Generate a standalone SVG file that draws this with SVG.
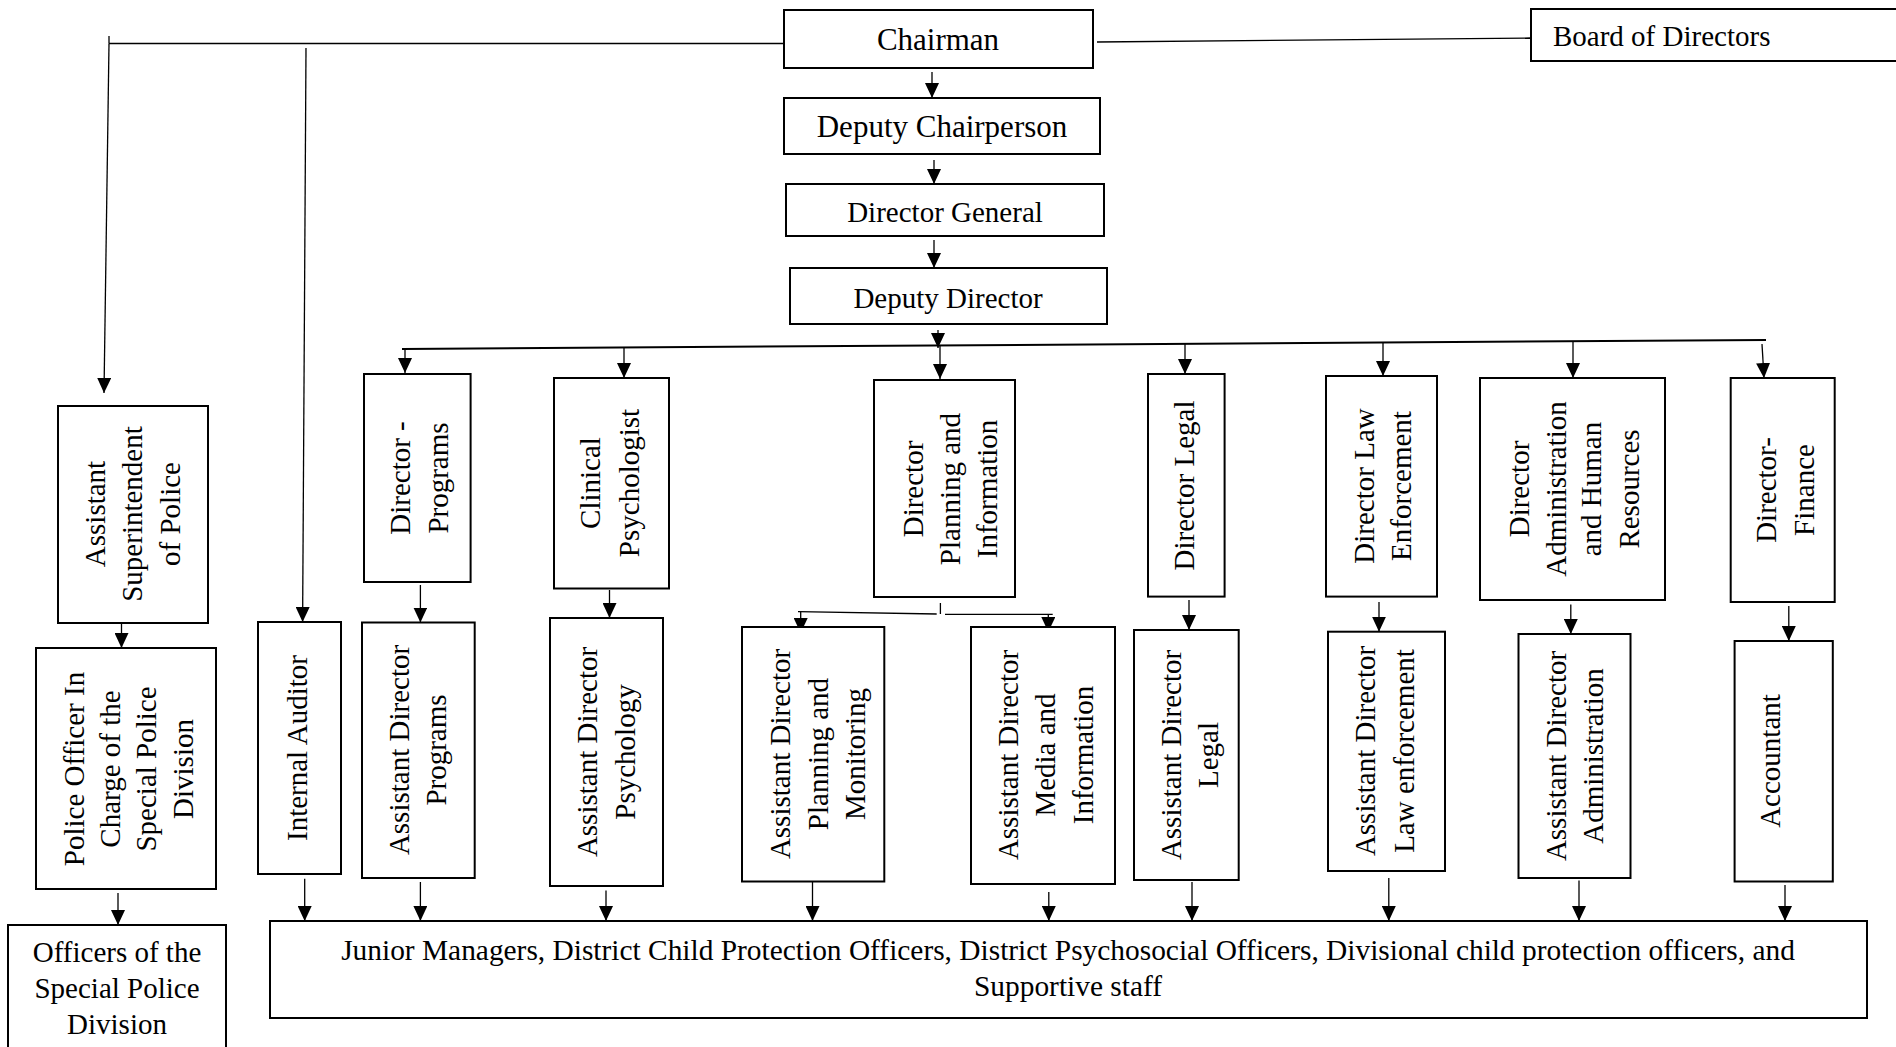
<svg xmlns="http://www.w3.org/2000/svg" width="1896" height="1047" viewBox="0 0 1896 1047">
<style>
.box{fill:#fff;stroke:#000;stroke-width:2}
.t{font-family:"Liberation Serif","Times New Roman",serif;font-size:29px;fill:#000;text-anchor:middle}
.s{text-anchor:start}
.c{stroke:#000;stroke-width:1.3;fill:none}
.b{stroke:#000;stroke-width:2;fill:none}
.a{marker-end:url(#arr)}
</style>
<defs>
<marker id="arr" markerUnits="userSpaceOnUse" markerWidth="15" markerHeight="14" refX="15" refY="7" orient="auto">
<path d="M0,0 L15,7 L0,14 z" fill="#000"/>
</marker>
</defs>
<rect x="0" y="0" width="1896" height="1047" fill="#fff"/>

<g id="connectors">
<line class="c" x1="109" y1="43.5" x2="784" y2="43.5"/>
<line class="c" x1="109" y1="36" x2="109" y2="43.5"/>
<line class="c a" x1="109" y1="43.5" x2="104" y2="393"/>
<line class="c a" x1="306" y1="48" x2="302.6" y2="622"/>
<line class="c" x1="1097" y1="42" x2="1530" y2="38"/>
<line class="c a" x1="932" y1="72" x2="932" y2="98"/>
<line class="c a" x1="934" y1="160" x2="934" y2="184"/>
<line class="c a" x1="934" y1="240" x2="934" y2="268"/>
<line class="c a" x1="938" y1="330" x2="938" y2="348"/>
<line class="b" x1="402" y1="349" x2="1766" y2="340"/>
<line class="c a" x1="405" y1="349" x2="405" y2="373"/>
<line class="c a" x1="624" y1="347" x2="624" y2="378"/>
<line class="c a" x1="940" y1="346" x2="940" y2="379"/>
<line class="c a" x1="1185" y1="344" x2="1185" y2="374"/>
<line class="c a" x1="1383" y1="343" x2="1383" y2="376"/>
<line class="c a" x1="1573" y1="342" x2="1573" y2="378"/>
<line class="c a" x1="1762" y1="344" x2="1764" y2="378"/>
<line class="c a" x1="121.5" y1="623" x2="121.5" y2="648"/>
<line class="c a" x1="118" y1="893" x2="118" y2="925"/>
<line class="c a" x1="420.4" y1="585" x2="420.4" y2="622.5"/>
<line class="c a" x1="609.5" y1="590" x2="609.5" y2="618"/>
<line class="c" x1="940.4" y1="603" x2="940.4" y2="614"/>
<line class="c" x1="798" y1="611.7" x2="936.7" y2="614"/>
<line class="c" x1="945" y1="614.3" x2="1052.7" y2="614.3"/>
<line class="c a" x1="800.7" y1="612" x2="800.7" y2="633"/>
<line class="c a" x1="1048.3" y1="614.3" x2="1048.3" y2="632"/>
<line class="c a" x1="1189" y1="600" x2="1189" y2="630"/>
<line class="c a" x1="1379" y1="602" x2="1379" y2="631.7"/>
<line class="c a" x1="1570.8" y1="604.5" x2="1570.8" y2="634"/>
<line class="c a" x1="1788.8" y1="606" x2="1788.8" y2="641"/>
<line class="c a" x1="304.7" y1="878.7" x2="304.7" y2="921"/>
<line class="c a" x1="420.4" y1="882" x2="420.4" y2="921"/>
<line class="c a" x1="606" y1="890.6" x2="606" y2="921"/>
<line class="c a" x1="812.5" y1="882" x2="812.5" y2="921"/>
<line class="c a" x1="1048.8" y1="892" x2="1048.8" y2="921"/>
<line class="c a" x1="1192" y1="882" x2="1192" y2="921"/>
<line class="c a" x1="1388.8" y1="878" x2="1388.8" y2="921"/>
<line class="c a" x1="1579" y1="880.6" x2="1579" y2="921"/>
<line class="c a" x1="1785" y1="885" x2="1785" y2="921"/>
</g>

<g id="chairman">
<rect class="box" x="784" y="10" width="309" height="58"/>
<text class="t" x="938" y="50" style="font-size:31px">Chairman</text>
</g>
<g id="board">
<rect class="box" x="1531" y="9" width="380" height="52"/>
<text class="t s" x="1553" y="46">Board of Directors</text>
</g>
<g id="deputy-chairperson">
<rect class="box" x="784" y="98" width="316" height="56"/>
<text class="t" x="942" y="137" style="font-size:31px">Deputy Chairperson</text>
</g>
<g id="director-general">
<rect class="box" x="786" y="184" width="318" height="52"/>
<text class="t" x="945" y="222">Director General</text>
</g>
<g id="deputy-director">
<rect class="box" x="790" y="268" width="317" height="56"/>
<text class="t" x="948" y="308">Deputy Director</text>
</g>

<g id="asst-superintendent">
<rect class="box" x="58" y="406" width="150" height="217"/>
<text class="t" transform="translate(105,514) rotate(-90)">Assistant</text>
<text class="t" transform="translate(142,514) rotate(-90)">Superintendent</text>
<text class="t" transform="translate(180,514) rotate(-90)">of Police</text>
</g>
<g id="police-officer">
<rect class="box" x="36" y="648" width="180" height="241"/>
<text class="t" transform="translate(84,769) rotate(-90)">Police Officer In</text>
<text class="t" transform="translate(120,769) rotate(-90)">Charge of the</text>
<text class="t" transform="translate(156,769) rotate(-90)">Special Police</text>
<text class="t" transform="translate(193,769) rotate(-90)">Division</text>
</g>
<g id="officers-spd">
<rect class="box" x="8" y="925" width="218" height="140"/>
<text class="t" x="117" y="962">Officers of the</text>
<text class="t" x="117" y="998">Special Police</text>
<text class="t" x="117" y="1034">Division</text>
</g>
<g id="internal-auditor">
<rect class="box" x="258" y="622" width="83" height="252"/>
<text class="t" transform="translate(307,748) rotate(-90)">Internal Auditor</text>
</g>
<g id="director-programs">
<rect class="box" x="364" y="374" width="106.6" height="208"/>
<text class="t" transform="translate(410,478) rotate(-90)">Director -</text>
<text class="t" transform="translate(447.6,478) rotate(-90)">Programs</text>
</g>
<g id="asst-director-programs">
<rect class="box" x="362" y="622.5" width="112.7" height="255.5"/>
<text class="t" transform="translate(409,750) rotate(-90)">Assistant Director</text>
<text class="t" transform="translate(446,750) rotate(-90)">Programs</text>
</g>
<g id="clinical-psychologist">
<rect class="box" x="554" y="378" width="115" height="210.5"/>
<text class="t" transform="translate(600,483) rotate(-90)">Clinical</text>
<text class="t" transform="translate(639,483) rotate(-90)">Psychologist</text>
</g>
<g id="asst-director-psychology">
<rect class="box" x="550" y="618" width="113" height="268"/>
<text class="t" transform="translate(597,752) rotate(-90)">Assistant Director</text>
<text class="t" transform="translate(635,752) rotate(-90)">Psychology</text>
</g>
<g id="director-planning">
<rect class="box" x="874" y="380" width="141" height="217"/>
<text class="t" transform="translate(922.6,489) rotate(-90)">Director</text>
<text class="t" transform="translate(960,489) rotate(-90)">Planning and</text>
<text class="t" transform="translate(997,489) rotate(-90)">Information</text>
</g>
<g id="asst-director-planning">
<rect class="box" x="742" y="627" width="142.3" height="254.5"/>
<text class="t" transform="translate(790,754) rotate(-90)">Assistant Director</text>
<text class="t" transform="translate(828,754) rotate(-90)">Planning and</text>
<text class="t" transform="translate(864.6,754) rotate(-90)">Monitoring</text>
</g>
<g id="asst-director-media">
<rect class="box" x="971" y="627" width="144" height="257"/>
<text class="t" transform="translate(1018,755) rotate(-90)">Assistant Director</text>
<text class="t" transform="translate(1055,755) rotate(-90)">Media and</text>
<text class="t" transform="translate(1092.6,755) rotate(-90)">Information</text>
</g>
<g id="director-legal">
<rect class="box" x="1148" y="374" width="76.6" height="222.6"/>
<text class="t" transform="translate(1194,485.5) rotate(-90)">Director Legal</text>
</g>
<g id="asst-director-legal">
<rect class="box" x="1134" y="630" width="104.7" height="250"/>
<text class="t" transform="translate(1181,755) rotate(-90)">Assistant Director</text>
<text class="t" transform="translate(1218,755) rotate(-90)">Legal</text>
</g>
<g id="director-law">
<rect class="box" x="1326" y="376" width="111" height="220.6"/>
<text class="t" transform="translate(1373.5,486) rotate(-90)">Director Law</text>
<text class="t" transform="translate(1410.8,486) rotate(-90)">Enforcement</text>
</g>
<g id="asst-director-law">
<rect class="box" x="1328" y="631.7" width="117" height="239.3"/>
<text class="t" transform="translate(1375,751) rotate(-90)">Assistant Director</text>
<text class="t" transform="translate(1414,751) rotate(-90)">Law enforcement</text>
</g>
<g id="director-admin">
<rect class="box" x="1480" y="378" width="185" height="222"/>
<text class="t" transform="translate(1528.7,489) rotate(-90)">Director</text>
<text class="t" transform="translate(1566,489) rotate(-90)">Administration</text>
<text class="t" transform="translate(1601,489) rotate(-90)">and Human</text>
<text class="t" transform="translate(1638.7,489) rotate(-90)">Resources</text>
</g>
<g id="asst-director-admin">
<rect class="box" x="1518.5" y="634" width="112" height="244"/>
<text class="t" transform="translate(1566,756) rotate(-90)">Assistant Director</text>
<text class="t" transform="translate(1603,756) rotate(-90)">Administration</text>
</g>
<g id="director-finance">
<rect class="box" x="1730.7" y="378" width="104" height="224"/>
<text class="t" transform="translate(1776,490) rotate(-90)">Director-</text>
<text class="t" transform="translate(1813.5,490) rotate(-90)">Finance</text>
</g>
<g id="accountant">
<rect class="box" x="1734.6" y="641" width="98.2" height="240.5"/>
<text class="t" transform="translate(1780,761) rotate(-90)">Accountant</text>
</g>
<g id="junior-staff">
<rect class="box" x="270" y="921" width="1597" height="97"/>
<text class="t" x="1068" y="960" style="font-size:29.4px">Junior Managers, District Child Protection Officers, District Psychosocial Officers, Divisional child protection officers, and</text>
<text class="t" x="1068" y="996" style="font-size:29.4px">Supportive staff</text>
</g>
</svg>
